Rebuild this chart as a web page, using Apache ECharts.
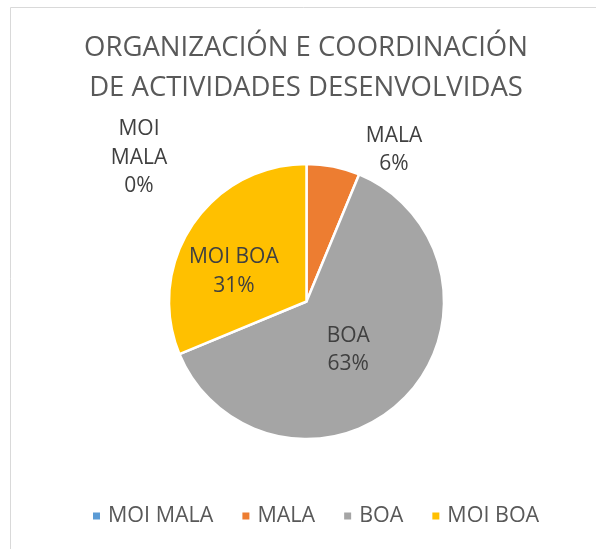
<!DOCTYPE html>
<html>
<head>
<meta charset="utf-8">
<script src="https://cdn.jsdelivr.net/npm/echarts@6/dist/echarts.min.js"></script>
<style>
  html, body { margin: 0; padding: 0; background: #fff; }
  #chart { width: 596px; height: 549px; }
</style>
</head>
<body>
<div id="chart"></div>
<script>
// categories and counts (percentages shown as 0%, 6%, 63%, 31%)
const categories = ['MOI MALA', 'MALA', 'BOA', 'MOI BOA'];
const counts = [0, 1, 10, 5];
const colors = ['#5b9bd5', '#ed7d31', '#a5a5a5', '#ffc000'];
const outsideLabels = ['MOI MALA', 'MALA'];

const chart = echarts.init(document.getElementById('chart'));
const font = "'Open Sans', sans-serif";

chart.setOption({
  animation: false,
  graphic: [{
    type: 'rect',
    shape: { x: 10.5, y: 7.5, width: 700, height: 700 },
    style: { fill: 'none', stroke: '#d9d9d9', lineWidth: 1 },
    silent: true,
  }],
  title: {
    text: 'ORGANIZACIÓN E COORDINACIÓN\nDE ACTIVIDADES DESENVOLVIDAS',
    left: 306,
    textAlign: 'center',
    top: 28,
    padding: 0,
    textStyle: { fontFamily: font, fontSize: 27.5, fontWeight: 'normal', color: '#595959', lineHeight: 40 },
  },
  legend: {
    top: 505,
    left: 91,
    icon: 'rect',
    itemWidth: 9,
    itemHeight: 9,
    itemGap: 27,
    padding: 0,
    textStyle: { fontFamily: font, fontSize: 21.5, color: '#595959', padding: [0, 0, 0, 2] },
    data: categories,
  },
  series: [{
    type: 'pie',
    center: [306.5, 301.5],
    radius: 137.5,
    startAngle: 90,
    clockwise: true,
    avoidLabelOverlap: false,
    itemStyle: { borderColor: '#fff', borderWidth: 2.5 },
    label: {
      show: true,
      position: 'inside',
      formatter: (p) => (p.name === 'MOI MALA' ? 'MOI\nMALA' : p.name) + '\n' + Math.round(p.percent) + '%',
      fontFamily: font,
      fontSize: 21,
      lineHeight: 28.5,
      color: '#404040',
    },
    labelLine: { show: false },
    labelLayout: (p) => {
      if (p.dataIndex === 0) return { x: 139, y: 158, align: 'center', verticalAlign: 'middle' };
      if (p.dataIndex === 1) return { x: 394, y: 150, align: 'center', verticalAlign: 'middle' };
      if (p.dataIndex === 2) return { dx: -9, dy: -2 };
      return { dx: -13, dy: 10 };
    },
    data: categories.map((name, i) => ({
      name,
      value: counts[i],
      itemStyle: { color: colors[i] },
      label: outsideLabels.includes(name) ? { position: 'outside' } : undefined,
    })),
  }],
});
</script>
</body>
</html>
